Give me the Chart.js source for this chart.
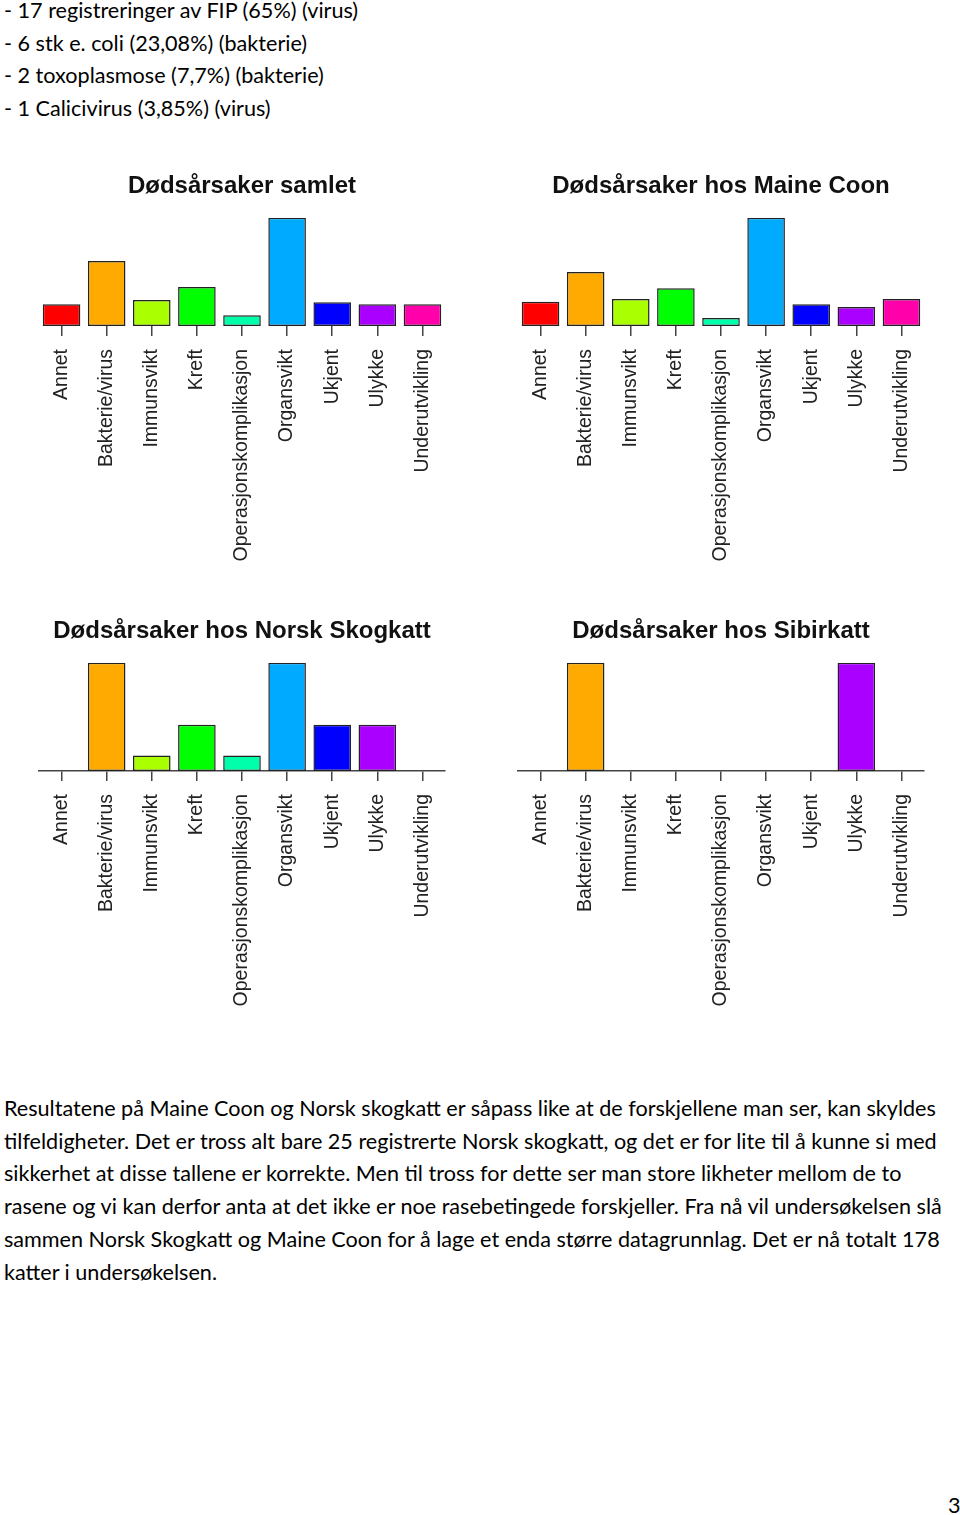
<!DOCTYPE html>
<html>
<head>
<meta charset="utf-8">
<script src="https://cdn.jsdelivr.net/npm/chart.js@4.4.1/dist/chart.umd.min.js"></script>
<style>
    html, body { margin: 0; padding: 0; background: #fff; }
    body { width: 960px; height: 1515px; position: relative; overflow: hidden; }
    .txt { position: absolute; left: 4px; font-family: Lato, "Open Sans", sans-serif; font-size: 21.6px; line-height: 32.7px; color: #000; white-space: nowrap; }
    .chart { position: absolute; width: 480px; height: 430px; }
    #pagenum { position: absolute; left: 948px; top: 1492px; font-family: Lato, sans-serif; font-size: 21.6px; }
</style>
</head>
<body>

<div class="txt" style="top:-6px;">
    <div>- 17 registreringer av FIP (65%) (virus)</div>
    <div>- 6 stk e. coli (23,08%) (bakterie)</div>
    <div>- 2 toxoplasmose (7,7%) (bakterie)</div>
    <div>- 1 Calicivirus (3,85%) (virus)</div>
</div>

<div class="chart" style="left:0; top:160px;"><canvas id="samlet" width="480" height="430"></canvas></div>
<div class="chart" style="left:480px; top:160px;"><canvas id="maine" width="480" height="430"></canvas></div>
<div class="chart" style="left:0; top:605px;"><canvas id="norsk" width="480" height="430"></canvas></div>
<div class="chart" style="left:480px; top:605px;"><canvas id="sibir" width="480" height="430"></canvas></div>

<div class="txt" style="top:1092px;">
    <div>Resultatene på Maine Coon og Norsk skogkatt er såpass like at de forskjellene man ser, kan skyldes</div>
    <div>tilfeldigheter. Det er tross alt bare 25 registrerte Norsk skogkatt, og det er for lite til å kunne si med</div>
    <div>sikkerhet at disse tallene er korrekte. Men til tross for dette ser man store likheter mellom de to</div>
    <div>rasene og vi kan derfor anta at det ikke er noe rasebetingede forskjeller. Fra nå vil undersøkelsen slå</div>
    <div>sammen Norsk Skogkatt og Maine Coon for å lage et enda større datagrunnlag. Det er nå totalt 178</div>
    <div>katter i undersøkelsen.</div>
</div>

<div id="pagenum">3</div>

<script>
const causes = ['Annet', 'Bakterie/virus', 'Immunsvikt', 'Kreft', 'Operasjonskomplikasjon',
    'Organsvikt', 'Ukjent', 'Ulykke', 'Underutvikling'];

// antall dødsfall per årsak, lest av stolpene
const samletCounts = [10, 30, 12, 18, 5, 50, 11, 10, 10];
const maineCounts = [9, 20, 10, 14, 3, 40, 8, 7, 10];
const norskCounts = [0, 7, 1, 3, 1, 7, 3, 3, 0];
const sibirCounts = [0, 1, 0, 0, 0, 0, 0, 1, 0];

// rainbow(9)
const barColors = ['#FF0000', '#FFAA00', '#AAFF00', '#00FF00', '#00FFAA',
    '#00AAFF', '#0000FF', '#AA00FF', '#FF00AA'];

function makeChart(id, title, counts, padLeft, showLine) {
    const ctx = document.getElementById(id).getContext('2d');
    return new Chart(ctx, {
        type: 'bar',
        data: {
            labels: causes,
            datasets: [{
                data: counts,
                backgroundColor: barColors,
                borderColor: '#222',
                borderWidth: 1.5,
                borderSkipped: false,
                categoryPercentage: 1,
                barPercentage: 1 / 1.2
            }]
        },
        options: {
            responsive: false,
            animation: false,
            layout: {
                padding: { left: padLeft, right: 480 - padLeft - 406, top: 0, bottom: 0 }
            },
            plugins: {
                legend: { display: false },
                tooltip: { enabled: false },
                title: {
                    display: true,
                    text: title,
                    color: '#111',
                    font: { family: "'Liberation Sans', Arial, sans-serif", size: 24, weight: 'bold' },
                    padding: { top: 12, bottom: 17 }
                }
            },
            scales: {
                x: {
                    offset: true,
                    grid: {
                        offset: false,
                        drawOnChartArea: false,
                        drawTicks: true,
                        tickLength: 10,
                        color: '#444',
                        lineWidth: 1.5
                    },
                    border: { display: showLine, color: '#444', width: 1.5 },
                    ticks: {
                        autoSkip: false,
                        minRotation: 90,
                        maxRotation: 90,
                        padding: 13,
                        color: '#222',
                        font: { family: "'Liberation Sans', Arial, sans-serif", size: 19.5 }
                    },
                    afterFit: function (scale) {
                        scale.height = 264;
                    }
                },
                y: {
                    display: false,
                    min: 0,
                    max: Math.max(...counts)
                }
            }
        }
    });
}

makeChart('samlet', 'Dødsårsaker samlet', samletCounts, 39, false);
makeChart('maine', 'Dødsårsaker hos Maine Coon', maineCounts, 38, false);
makeChart('norsk', 'Dødsårsaker hos Norsk Skogkatt', norskCounts, 39, true);
makeChart('sibir', 'Dødsårsaker hos Sibirkatt', sibirCounts, 38, true);
</script>
</body>
</html>
